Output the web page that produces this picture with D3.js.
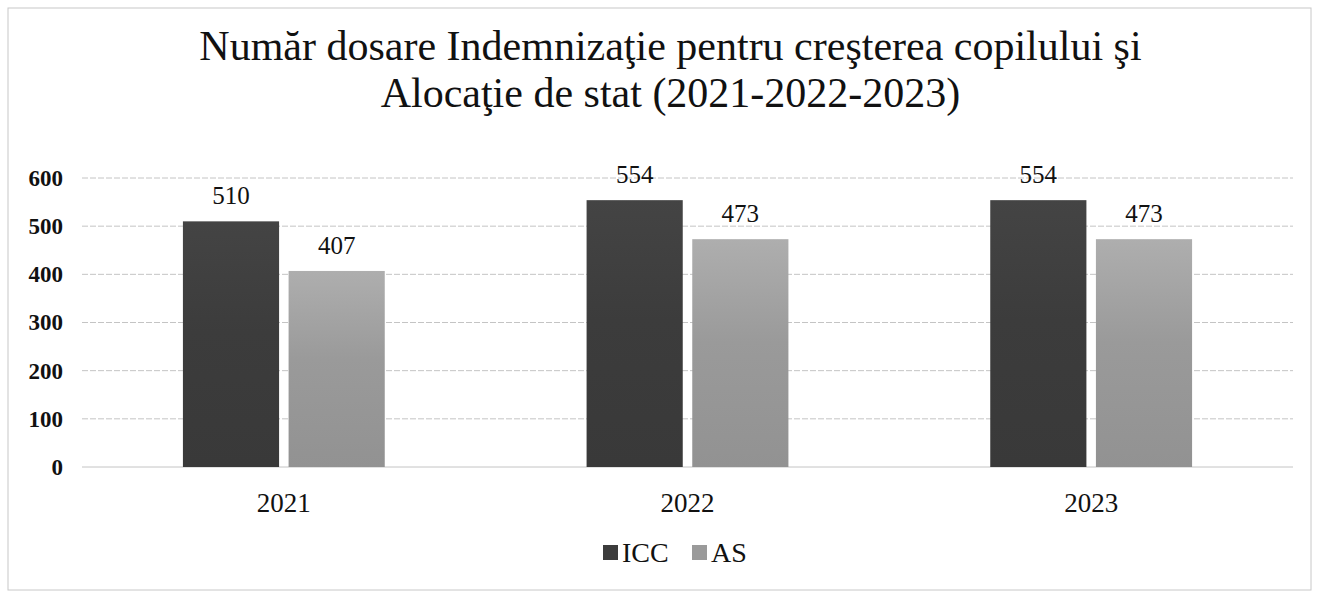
<!DOCTYPE html>
<html lang="ro">
<head>
<meta charset="UTF-8">
<title>Număr dosare</title>
<style>
  body { margin: 0; background: #fff; overflow: hidden; }
  text { font-family: "Liberation Serif", "Times New Roman", serif; fill: #111; }
</style>
</head>
<body>
<svg id="chart"></svg>
<script src="https://cdn.jsdelivr.net/npm/d3@7"></script>
<script>
const years = ["2021", "2022", "2023"];
const series = ["ICC", "AS"];
const icc = [510, 554, 554];
const as = [407, 473, 473];
const yTicks = [0, 100, 200, 300, 400, 500, 600];
const colors = { ICC: "#3c3c3c", AS: "#9a9a9a" };

const W = 1317, H = 596;
const m = { left: 82, right: 24, top: 178, bottom: 129 };
const svg = d3.select("#chart").attr("width", W).attr("height", H);

// faint frame like the scanned page
svg.append("rect")
  .attr("x", 8).attr("y", 8).attr("width", W - 14).attr("height", H - 14)
  .attr("fill", "none").attr("stroke", "#c8c8c8").attr("stroke-width", 1);

const defs = svg.append("defs");
series.forEach(s => {
  const g = defs.append("linearGradient").attr("id", "grad" + s)
    .attr("x1", 0).attr("y1", 0).attr("x2", 0).attr("y2", 1);
  const c = d3.color(colors[s]);
  g.append("stop").attr("offset", "0%").attr("stop-color", c.brighter(0.35));
  g.append("stop").attr("offset", "45%").attr("stop-color", c);
  g.append("stop").attr("offset", "100%").attr("stop-color", c.darker(0.15));
});

const x0 = d3.scaleBand().domain(years)
  .range([m.left, W - m.right]).paddingInner(0.5).paddingOuter(0.25);
const x1 = d3.scaleBand().domain(series)
  .range([0, x0.bandwidth()]).paddingInner(0.09);
const y = d3.scaleLinear().domain([0, 600]).range([H - m.bottom, m.top]);

// grid
svg.append("g").selectAll("line").data(yTicks).join("line")
  .attr("x1", m.left).attr("x2", W - m.right)
  .attr("y1", d => y(d)).attr("y2", d => y(d))
  .attr("stroke", "#c4c4c4").attr("stroke-width", 1)
  .attr("stroke-dasharray", d => d === 0 ? null : "6 2");

// y axis labels
const yAxis = svg.append("g")
  .attr("transform", `translate(${m.left - 19},0)`)
  .call(d3.axisLeft(y).tickValues(yTicks).tickSize(0).tickPadding(0));
yAxis.select(".domain").remove();
yAxis.selectAll("text")
  .attr("font-size", 23).attr("font-weight", "bold")
  .style("font-family", "'Liberation Serif', serif").attr("fill", "#111");

// x axis labels
const xAxis = svg.append("g")
  .attr("transform", `translate(0,${y(0)})`)
  .call(d3.axisBottom(x0).tickSize(0).tickPadding(26));
xAxis.select(".domain").remove();
xAxis.selectAll("text")
  .attr("font-size", 27)
  .style("font-family", "'Liberation Serif', serif").attr("fill", "#111");

const rows = years.map((yr, i) => ({ year: yr, vals: [
  { key: "ICC", v: icc[i] }, { key: "AS", v: as[i] } ] }));

const groups = svg.append("g").selectAll("g").data(rows).join("g")
  .attr("transform", d => `translate(${x0(d.year)},0)`);

groups.selectAll("rect").data(d => d.vals).join("rect")
  .attr("x", d => x1(d.key))
  .attr("width", x1.bandwidth())
  .attr("y", d => y(d.v))
  .attr("height", d => y(0) - y(d.v))
  .attr("fill", d => `url(#grad${d.key})`);

groups.selectAll("text.val").data(d => d.vals).join("text")
  .attr("class", "val")
  .attr("x", d => x1(d.key) + x1.bandwidth() / 2)
  .attr("y", d => y(d.v) - 17)
  .attr("text-anchor", "middle")
  .attr("font-size", 25)
  .text(d => d.v);

// title
const tx = W / 2 + 12;
const title = svg.append("text").attr("text-anchor", "middle").attr("font-size", 42);
title.append("tspan").attr("x", tx).attr("y", 60)
  .text("Număr dosare Indemnizaţie pentru creşterea copilului şi");
title.append("tspan").attr("x", tx).attr("y", 107)
  .text("Alocaţie de stat (2021-2022-2023)");

// legend
const legend = svg.append("g").attr("transform", "translate(603,553)");
const lx = [0, 89];
series.forEach((s, i) => {
  const g = legend.append("g").attr("transform", `translate(${lx[i]},0)`);
  g.append("rect").attr("x", 0).attr("y", -8).attr("width", 15).attr("height", 15)
    .attr("fill", colors[s]);
  g.append("text").attr("x", 19).attr("y", 9).attr("font-size", 28).text(s);
});
</script>
</body>
</html>
